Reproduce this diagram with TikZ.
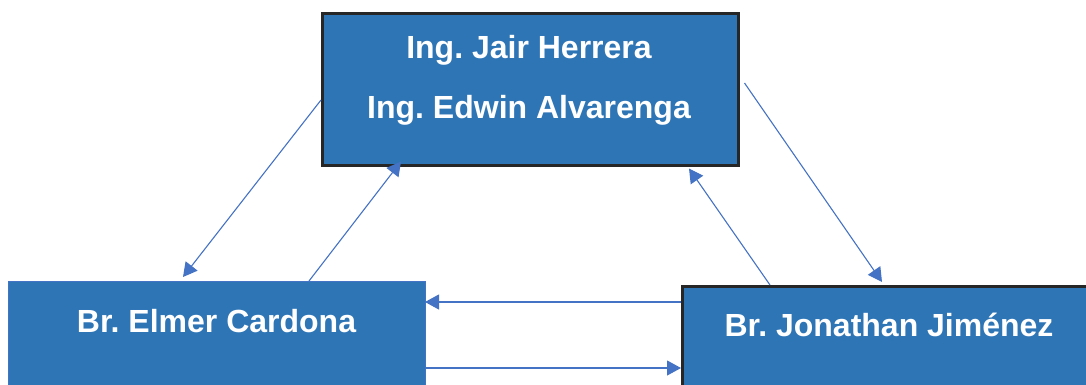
\documentclass[tikz,border=0pt]{standalone}
\usepackage{fontspec}
\setmainfont{Liberation Sans}
\frenchspacing
\usetikzlibrary{arrows.meta,calc}
\definecolor{boxblue}{HTML}{2E75B6}
\definecolor{lineblue}{HTML}{4472C4}
\begin{document}
\begin{tikzpicture}[x=1pt,y=-1pt,
  box/.style={draw, fill=boxblue, rectangle, inner sep=0pt, anchor=north west},
  lbl/.style={text=white, font=\fontsize{32}{38}\selectfont\bfseries, anchor=base, inner sep=0pt},
  conn/.style={draw=lineblue, line width=1.1pt, -{Triangle[length=14pt,width=15pt]}}]
\useasboundingbox (0,0) rectangle (1086,384);
\clip (0,0) rectangle (1086,384);
\node[box, draw=black!85, line width=2.5pt, minimum width=416, minimum height=152] (top) at (321,12) {};
\node[box, draw=lineblue, line width=1pt, minimum width=417, minimum height=140] (elmer) at (8,281) {};
\node[box, draw=black!85, line width=2.5pt, minimum width=416, minimum height=140] (jon) at (681,285) {};
\node[lbl] (t1) at (529,58.3) {Ing. Jair Herrera};
\node[lbl] (t2) at (529,118.3) {Ing. Edwin Alvarenga};
\node[lbl] (t3) at (216.5,332.7) {Br. Elmer Cardona};
\node[lbl] (t4) at (889,336.7) {Br. Jonathan Jiménez};
\draw[conn] ($(top.north west)+(0,88)$) -- ($(elmer.north west)+(175,-4)$);
\draw[conn] ($(elmer.north west)+(301,0)$) -- ($(top.south west)+(80,-5)$);
\draw[conn] ($(top.north east)+(5,71)$) -- ($(jon.north west)+(201,-3)$);
\draw[conn] ($(jon.north west)+(89,0)$) -- ($(top.south west)+(368,2)$);
\draw[conn] ($(jon.north west)+(0,17)$) -- ($(elmer.north east)+(-1,21)$);
\draw[conn] ($(elmer.north east)+(0,87)$) -- ($(jon.north west)+(0,83)$);
\end{tikzpicture}
\end{document}
